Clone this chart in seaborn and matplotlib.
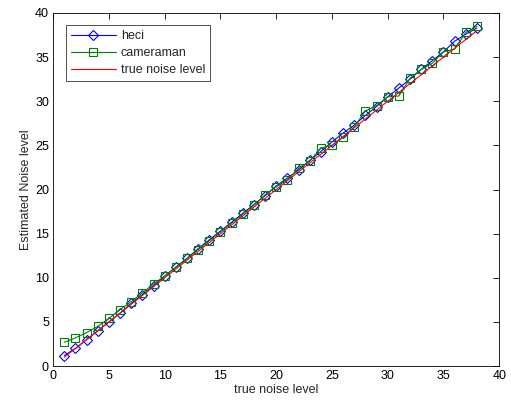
import numpy as np
import pandas as pd
import matplotlib
matplotlib.use("Agg")
import matplotlib.pyplot as plt
import seaborn as sns

# data
noise = list(range(1, 39))
heci = [1.2, 2.0, 3.0, 4.0, 5.0, 6.0, 7.1, 8.1, 9.1, 10.2,
        11.2, 12.2, 13.3, 14.3, 15.3, 16.3, 17.3, 18.3, 19.3, 20.4,
        21.3, 22.2, 23.3, 24.3, 25.4, 26.4, 27.3, 28.4, 29.4, 30.5,
        31.5, 32.5, 33.6, 34.6, 35.6, 36.8, 37.6, 38.3]
cameraman = [2.7, 3.2, 3.8, 4.5, 5.4, 6.4, 7.3, 8.3, 9.3, 10.2,
             11.2, 12.2, 13.2, 14.2, 15.2, 16.2, 17.2, 18.2, 19.4, 20.3,
             21.1, 22.4, 23.2, 24.7, 25.0, 25.9, 27.1, 28.9, 29.5, 30.5,
             30.6, 32.6, 33.6, 34.3, 35.6, 35.9, 37.8, 38.5]

df = pd.DataFrame({'x': noise, 'heci': heci, 'cameraman': cameraman, 'true': noise})

sns.set_style("white")
plt.rcParams['font.family'] = ['Liberation Sans', 'DejaVu Sans']
plt.rcParams['font.size'] = 9

fig = plt.figure(figsize=(5.11, 4.05), dpi=100)
ax = fig.add_axes([0.104, 0.096, 0.873, 0.872])

sns.lineplot(data=df, x='x', y='heci', ax=ax, color='#0000ff', lw=0.8,
             marker='D', markersize=5, markerfacecolor='none',
             markeredgecolor='#0000ff', markeredgewidth=0.8, label='heci')
sns.lineplot(data=df, x='x', y='cameraman', ax=ax, color='#008000', lw=0.8,
             marker='s', markersize=5.5, markerfacecolor='none',
             markeredgecolor='#008000', markeredgewidth=0.8, label='cameraman')
sns.lineplot(data=df, x='x', y='true', ax=ax, color='#ff0000', lw=0.8,
             label='true noise level')

ax.set_xlim(0, 40)
ax.set_ylim(0, 40)
ax.set_xticks(range(0, 41, 5))
ax.set_yticks(range(0, 41, 5))
ax.set_xlabel('true noise level', fontsize=9, labelpad=1)
ax.set_ylabel('Estimated Noise level', fontsize=9, labelpad=2)
ax.tick_params(direction='in', length=4, width=0.6, top=True, right=True,
               labelsize=9, pad=3, colors='black')
for s in ax.spines.values():
    s.set_color('black')
    s.set_linewidth(0.6)

leg = ax.legend(loc='upper left', fontsize=9, frameon=True, fancybox=False,
                edgecolor='black', borderaxespad=1.0, handlelength=3.6,
                labelspacing=0.4, borderpad=0.4, handletextpad=0.4)
leg.get_frame().set_linewidth(0.6)

fig.savefig('out.png', dpi=100)
